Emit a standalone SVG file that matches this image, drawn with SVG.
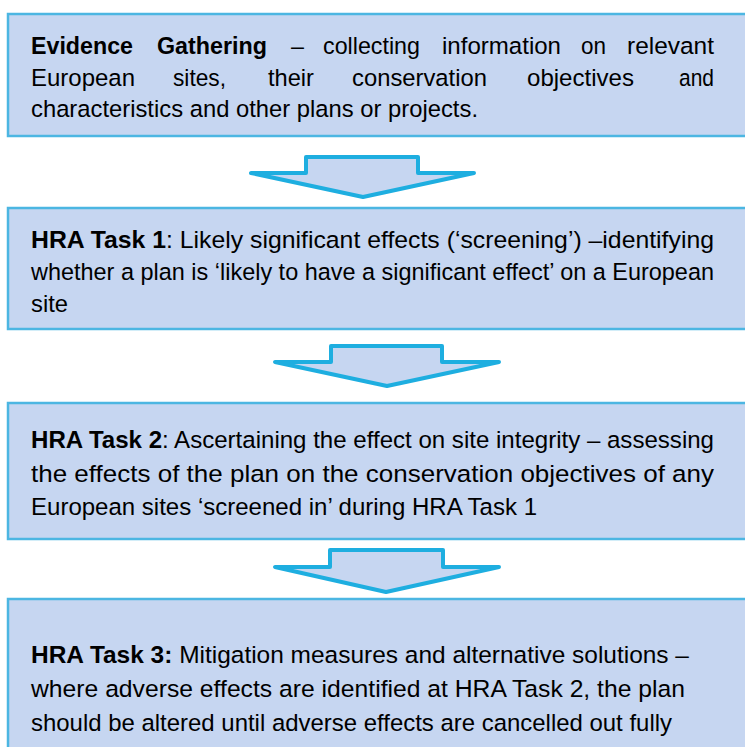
<svg xmlns="http://www.w3.org/2000/svg" width="745" height="747" viewBox="0 0 745 747">
<style>
.box{fill:#c6d6f1;stroke:#4cb6e2;stroke-width:2.5}
.arrow{fill:#c6d6f1;stroke:#1eaee0;stroke-width:4;stroke-linejoin:round}
text{font-family:"Liberation Sans Narrow","Liberation Sans",Arial,sans-serif;font-size:24.5px;fill:#000}
.b{font-weight:bold}
</style>
<rect width="745" height="747" fill="#ffffff"/>
<g id="connectors">
<path class="arrow" d="M251,173 L306,173 L306,157 L418,157 L418,173 L474,173 L363,197 Z"/>
<path class="arrow" d="M275,362 L331,362 L331,346 L442,346 L442,362 L499,362 L387,386 Z"/>
<path class="arrow" d="M275,567 L330,567 L330,550 L443,550 L443,567 L499,567 L386,592 Z"/>
</g>
<g id="evidence">
<rect class="box" x="8" y="14" width="760" height="122"/>
<text class="b" x="31" y="54" textLength="102" lengthAdjust="spacingAndGlyphs">Evidence</text>
<text class="b" x="157" y="54" textLength="110" lengthAdjust="spacingAndGlyphs">Gathering</text>
<text x="291" y="54" textLength="13" lengthAdjust="spacingAndGlyphs">–</text>
<text x="323" y="54" textLength="97" lengthAdjust="spacingAndGlyphs">collecting</text>
<text x="442" y="54" textLength="119" lengthAdjust="spacingAndGlyphs">information</text>
<text x="581" y="54" textLength="25" lengthAdjust="spacingAndGlyphs">on</text>
<text x="627" y="54" textLength="87" lengthAdjust="spacingAndGlyphs">relevant</text>
<text x="31" y="86" textLength="104" lengthAdjust="spacingAndGlyphs">European</text>
<text x="173" y="86" textLength="53" lengthAdjust="spacingAndGlyphs">sites,</text>
<text x="268" y="86" textLength="46" lengthAdjust="spacingAndGlyphs">their</text>
<text x="352" y="86" textLength="135" lengthAdjust="spacingAndGlyphs">conservation</text>
<text x="527" y="86" textLength="107" lengthAdjust="spacingAndGlyphs">objectives</text>
<text x="679" y="86" textLength="35" lengthAdjust="spacingAndGlyphs">and</text>
<text x="31" y="117" textLength="447" lengthAdjust="spacingAndGlyphs">characteristics and other plans or projects.</text>
</g>
<g id="task1">
<rect class="box" x="8" y="208" width="760" height="121"/>
<text x="31" y="248" textLength="683" lengthAdjust="spacingAndGlyphs"><tspan class="b">HRA Task 1</tspan>: Likely significant effects (‘screening’) –identifying</text>
<text x="31" y="280" textLength="683" lengthAdjust="spacingAndGlyphs">whether a plan is ‘likely to have a significant effect’ on a European</text>
<text x="31" y="312" textLength="37" lengthAdjust="spacingAndGlyphs">site</text>
</g>
<g id="task2">
<rect class="box" x="8" y="403" width="760" height="136"/>
<text x="31" y="448" textLength="683" lengthAdjust="spacingAndGlyphs"><tspan class="b">HRA Task 2</tspan>: Ascertaining the effect on site integrity – assessing</text>
<text x="31" y="482" textLength="683" lengthAdjust="spacingAndGlyphs">the effects of the plan on the conservation objectives of any</text>
<text x="31" y="515" textLength="506" lengthAdjust="spacingAndGlyphs">European sites ‘screened in’ during HRA Task 1</text>
</g>
<g id="task3">
<rect class="box" x="8" y="599" width="760" height="170"/>
<text x="31" y="663" textLength="658" lengthAdjust="spacingAndGlyphs"><tspan class="b">HRA Task 3:</tspan> Mitigation measures and alternative solutions –</text>
<text x="31" y="697" textLength="654" lengthAdjust="spacingAndGlyphs">where adverse effects are identified at HRA Task 2, the plan</text>
<text x="31" y="731" textLength="641" lengthAdjust="spacingAndGlyphs">should be altered until adverse effects are cancelled out fully</text>
</g>
</svg>
